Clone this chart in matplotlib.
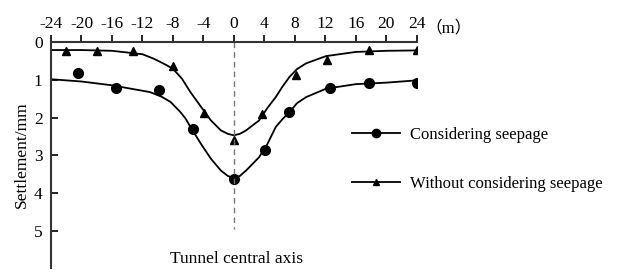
import numpy as np
import matplotlib
matplotlib.use('Agg')
import matplotlib.pyplot as plt

plt.rcParams['font.family'] = ['Liberation Serif', 'Noto Sans CJK SC', 'DejaVu Sans']

# measured points
seep_x = [-20.5, -15.5, -9.8, -5.4, 0, 4.1, 7.3, 12.6, 17.7, 24.0]
seep_y = [0.82, 1.21, 1.28, 2.30, 3.61, 2.85, 1.86, 1.21, 1.09, 1.09]
noseep_x = [-22.0, -17.9, -13.3, -8.0, -3.9, 0, 3.7, 8.2, 12.2, 17.7, 24.0]
noseep_y = [0.25, 0.25, 0.25, 0.64, 1.88, 2.60, 1.90, 0.88, 0.49, 0.22, 0.22]

# fitted curves
seep_fit_x = [-24, -20, -16, -13.5, -11, -9.5, -8.3, -7, -6.3, -5.7, -4.3, -3, -1.7, -0.8, 0,
              0.8, 1.6, 3.3, 4.4, 5.5, 6.4, 7.3, 8.3, 9.5, 12.1, 16, 20, 24]
seep_fit_y = [0.99, 1.05, 1.15, 1.24, 1.33, 1.45, 1.59, 1.86, 2.04, 2.25, 2.70, 3.09, 3.40, 3.54, 3.60,
              3.54, 3.40, 3.05, 2.70, 2.25, 2.04, 1.86, 1.62, 1.46, 1.24, 1.12, 1.08, 1.02]
noseep_fit_x = [-24, -20, -16, -12, -10.5, -9.3, -8, -6.8, -5.7, -4.3, -3, -1.7, -0.8, 0,
                0.8, 1.6, 3.3, 4.4, 5.5, 6.4, 7.3, 8.3, 9.5, 12.1, 16, 20, 24]
noseep_fit_y = [0.22, 0.22, 0.24, 0.33, 0.45, 0.57, 0.71, 0.98, 1.33, 1.72, 2.08, 2.34, 2.43, 2.47,
                2.43, 2.34, 2.08, 1.75, 1.46, 1.18, 0.93, 0.72, 0.57, 0.38, 0.27, 0.24, 0.23]

xticks = [-24, -20, -16, -12, -8, -4, 0, 4, 8, 12, 16, 20, 24]
yticks = [0, 1, 2, 3, 4, 5]

fig = plt.figure(figsize=(6.21, 2.72), dpi=100)
ax = fig.add_axes([51/621, 1 - 268/272, (416.7 - 51)/621, (268 - 41.7)/272])

ax.plot(seep_fit_x, seep_fit_y, color='k', lw=1.3)
ax.plot(noseep_fit_x, noseep_fit_y, color='k', lw=1.3)
ax.plot(seep_x, seep_y, 'o', color='k', ms=7, ls='none')
ax.plot(noseep_x, noseep_y, '^', color='k', ms=6, ls='none')
ax.plot([0, 0], [0, 4.95], color='#777777', ls=(0, (4, 3)), lw=1.0)

# legend proxies
ax.plot([], [], color='k', lw=1.3, marker='o', ms=6, label='Considering seepage')
ax.plot([], [], color='k', lw=1.3, marker='^', ms=5, label='Without considering seepage')

ax.set_xlim(-24, 24)
ax.set_ylim(5.97, 0)
ax.xaxis.tick_top()
ax.set_xticks(xticks)
ax.set_xticklabels([str(t) for t in xticks])
ax.set_yticks(yticks)
ax.tick_params(axis='x', direction='out', length=5, width=1.2, labelsize=12.5, pad=2)
ax.tick_params(axis='y', direction='in', length=5, width=1.2, labelsize=12.5, pad=6)
for s in ['right', 'bottom']:
    ax.spines[s].set_visible(False)
for s in ['top', 'left']:
    ax.spines[s].set_linewidth(1.5)
    ax.spines[s].set_color('#333333')

ax.set_ylabel('Settlement/mm', fontsize=12.5, labelpad=3)
ax.text(0.4, 5.74, 'Tunnel central axis', fontsize=12.5, ha='center', va='center')
ax.text(25.2, -0.15, '（m）', fontsize=12, ha='left', va='bottom')

leg = ax.legend(loc='upper left', bbox_to_anchor=(352/621, 1 - 127/272),
                bbox_transform=fig.transFigure, frameon=False, fontsize=12,
                handlelength=2.9, handletextpad=0.6, labelspacing=2.0,
                borderpad=0, borderaxespad=0)

fig.savefig('out.png', dpi=100)
